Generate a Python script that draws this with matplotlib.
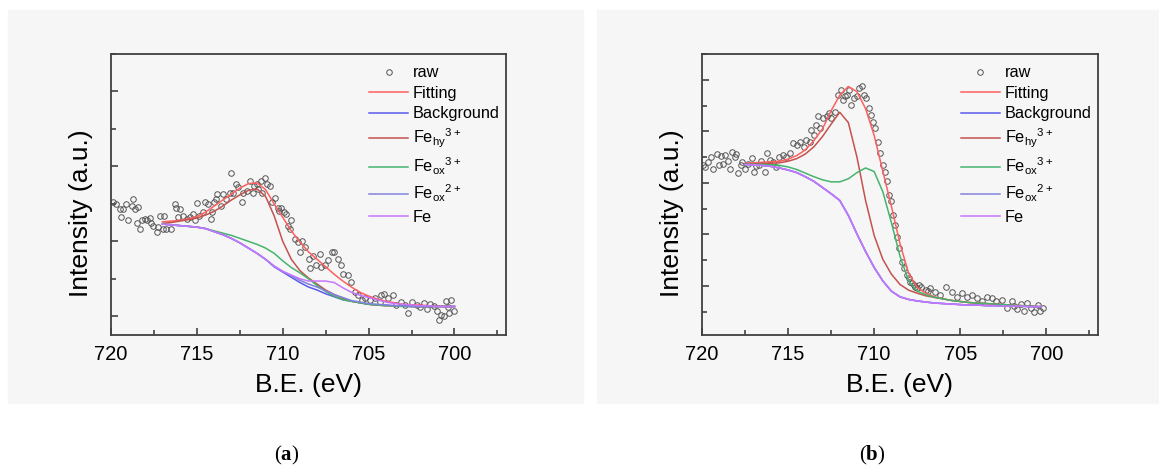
import matplotlib
matplotlib.use('Agg')
import matplotlib.pyplot as plt
from matplotlib.patches import Rectangle
from matplotlib.ticker import MultipleLocator

plt.rcParams['font.family'] = ['Liberation Sans', 'DejaVu Sans']
plt.rcParams['mathtext.fontset'] = 'custom'
plt.rcParams['mathtext.rm'] = 'Liberation Serif'
plt.rcParams['mathtext.bf'] = 'Liberation Serif:bold'

# ---------------- panel (a) ----------------
raw_a_be = [719.9, 719.7, 719.5, 719.3, 719.1, 719.4, 719.0, 718.8, 718.7, 718.6,
            718.4, 718.5, 718.3, 718.2, 718.0, 717.9, 717.75, 717.65, 717.55, 717.35,
            717.25, 717.15, 717.0, 716.9, 716.8, 716.5, 716.3, 716.2, 716.0, 716.1,
            715.8, 715.6, 715.4, 715.2, 715.1, 715.0, 714.85, 714.65, 714.55, 714.35,
            714.2, 714.1, 714.0, 713.9, 713.8, 713.6, 713.5, 713.3, 713.1, 713.0,
            712.9, 712.7, 712.6, 712.4, 712.3, 712.1, 711.9, 711.75, 711.65, 711.5,
            711.45, 711.25, 711.05, 710.9, 710.75, 711.2, 710.65, 710.45, 710.3, 710.1,
            710.2, 709.9, 709.8, 709.5, 709.7, 709.6, 709.3, 709.1, 708.9, 709.0,
            708.7, 708.5, 708.4, 708.25, 708.05, 707.85, 707.75, 707.55, 707.35, 707.15,
            707.0, 706.8, 706.6, 706.5, 706.2, 706.0, 705.8, 705.6, 705.4, 705.2,
            704.9, 704.65, 704.35, 704.25, 704.1, 703.9, 703.6, 703.4, 703.1, 702.9,
            702.7, 702.5, 702.2, 702.0, 701.8, 701.6, 701.4, 701.2, 701.0, 700.9,
            700.8, 700.6, 700.5, 700.4, 700.3, 700.2, 700.0]
raw_a_int = [1.52, 1.50, 1.43, 1.43, 1.50, 1.32, 1.29, 1.47, 1.57, 1.43,
             1.46, 1.25, 1.16, 1.28, 1.30, 1.28, 1.31, 1.25, 1.21, 1.12,
             1.19, 1.34, 1.17, 1.34, 1.17, 1.17, 1.50, 1.45, 1.43, 1.33,
             1.34, 1.30, 1.33, 1.36, 1.29, 1.51, 1.34, 1.39, 1.52, 1.50,
             1.30, 1.39, 1.52, 1.57, 1.63, 1.47, 1.63, 1.56, 1.65, 1.91,
             1.65, 1.77, 1.72, 1.52, 1.65, 1.67, 1.81, 1.65, 1.74, 1.76,
             1.70, 1.81, 1.85, 1.76, 1.74, 1.65, 1.52, 1.58, 1.45, 1.45,
             1.41, 1.39, 1.36, 1.28, 1.21, 1.17, 1.03, 0.99, 1.01, 0.86,
             0.92, 0.77, 0.64, 0.81, 0.68, 0.83, 0.66, 0.68, 0.75, 0.86,
             0.86, 0.77, 0.68, 0.57, 0.55, 0.46, 0.33, 0.28, 0.22, 0.24,
             0.22, 0.24, 0.19, 0.28, 0.30, 0.24, 0.28, 0.15, 0.19, 0.15,
             0.04, 0.19, 0.15, 0.13, 0.18, 0.10, 0.17, 0.14, 0.07, -0.05,
             0.02, 0.00, 0.20, 0.13, 0.05, 0.22, 0.07]

fit_a_be = [717.0, 716.5, 716.0, 715.5, 715.0, 714.5, 714.0, 713.5, 713.0, 712.5,
            712.0, 711.5, 711.0, 710.5, 710.0, 709.5, 709.0, 708.5, 708.0, 707.5,
            707.0, 706.5, 706.0, 705.5, 705.0, 704.5, 704.0, 703.5, 703.0, 702.5,
            702.0, 701.5, 701.0, 700.5, 700.0]
fitting_a = [1.26, 1.27, 1.28, 1.30, 1.33, 1.39, 1.47, 1.55, 1.63, 1.71,
             1.77, 1.78, 1.69, 1.50, 1.32, 1.14, 0.99, 0.86, 0.76, 0.66,
             0.56, 0.47, 0.39, 0.32, 0.27, 0.23, 0.20, 0.18, 0.16, 0.15,
             0.15, 0.14, 0.14, 0.13, 0.13]
bg_a = [1.23, 1.22, 1.21, 1.20, 1.19, 1.17, 1.13, 1.09, 1.04, 0.98,
        0.91, 0.84, 0.76, 0.66, 0.59, 0.52, 0.45, 0.39, 0.35, 0.30,
        0.26, 0.22, 0.20, 0.18, 0.16, 0.15, 0.15, 0.14, 0.14, 0.13,
        0.13, 0.13, 0.13, 0.13, 0.13]
fehy_a = [1.24, 1.25, 1.27, 1.29, 1.31, 1.35, 1.40, 1.47, 1.55, 1.62,
          1.68, 1.70, 1.60, 1.34, 1.00, 0.76, 0.61, 0.51, 0.43, 0.35,
          0.29, 0.24, 0.20, 0.18, 0.16, 0.15, 0.14, 0.14, 0.14, 0.13,
          0.13, 0.13, 0.13, 0.13, 0.13]
feox3_a = [1.23, 1.22, 1.21, 1.20, 1.19, 1.17, 1.14, 1.11, 1.08, 1.04,
           1.00, 0.96, 0.91, 0.84, 0.74, 0.65, 0.58, 0.50, 0.41, 0.33,
           0.27, 0.22, 0.20, 0.18, 0.16, 0.15, 0.14, 0.14, 0.13, 0.13,
           0.13, 0.13, 0.13, 0.13, 0.13]
feox2_a = [1.23, 1.22, 1.21, 1.20, 1.19, 1.17, 1.13, 1.09, 1.04, 0.98,
           0.91, 0.84, 0.76, 0.67, 0.60, 0.54, 0.48, 0.43, 0.39, 0.34,
           0.29, 0.25, 0.21, 0.19, 0.17, 0.16, 0.15, 0.14, 0.14, 0.13,
           0.13, 0.13, 0.13, 0.13, 0.13]
fe_a = [1.23, 1.22, 1.21, 1.20, 1.19, 1.17, 1.13, 1.09, 1.04, 0.98,
        0.91, 0.84, 0.76, 0.67, 0.60, 0.55, 0.50, 0.47, 0.47, 0.47,
        0.45, 0.38, 0.32, 0.28, 0.25, 0.22, 0.19, 0.17, 0.16, 0.15,
        0.14, 0.14, 0.13, 0.13, 0.13]

# ---------------- panel (b) ----------------
raw_b_be = [719.94, 719.8, 719.65, 719.5, 719.35, 719.15, 719.0, 718.9, 718.8, 718.65,
            718.5, 718.4, 718.25, 718.1, 718.0, 717.9, 717.75, 717.65, 717.5, 717.3,
            717.1, 717.0, 716.85, 716.7, 716.55, 716.35, 716.2, 716.05, 715.9, 715.7,
            715.5, 715.3, 715.1, 714.9, 714.7, 714.5, 714.3, 714.1, 713.95, 713.75,
            713.65, 713.5, 713.35, 713.15, 713.25, 712.95, 712.75, 712.6, 712.5, 712.3,
            712.1, 711.95, 711.8, 711.7, 711.6, 711.45, 711.35, 711.2, 711.0, 710.9,
            710.7, 710.6, 710.5, 710.3, 710.2, 710.05, 709.95, 709.8, 709.65, 709.5,
            709.4, 709.25, 709.15, 709.0, 708.9, 708.8, 708.7, 708.55, 708.4, 708.25,
            708.1, 708.0, 707.9, 707.8, 707.7, 707.6, 707.5, 707.4, 707.3, 707.0,
            706.9, 706.75, 706.45, 706.15, 705.8, 705.5, 705.2, 704.9, 704.6, 704.3,
            704.0, 703.75, 703.45, 703.15, 702.9, 702.6, 702.3, 702.0, 701.9, 701.7,
            701.5, 701.3, 701.1, 700.9, 700.7, 700.5, 700.35, 700.2]
raw_b_int = [3.35, 3.30, 3.40, 3.51, 3.27, 3.56, 3.35, 3.53, 3.36, 3.54,
             3.43, 3.27, 3.60, 3.51, 3.56, 3.20, 3.35, 3.41, 3.27, 3.36,
             3.49, 3.22, 3.32, 3.35, 3.43, 3.21, 3.58, 3.45, 3.40, 3.30,
             3.51, 3.54, 3.51, 3.58, 3.77, 3.74, 3.80, 3.69, 3.83, 3.80,
             4.03, 3.93, 4.13, 4.06, 4.29, 4.26, 4.29, 4.35, 4.26, 4.38,
             4.71, 4.81, 4.61, 4.68, 4.71, 4.81, 4.51, 4.64, 4.68, 4.84,
             4.87, 4.70, 4.64, 4.45, 4.32, 4.19, 4.06, 3.80, 3.58, 3.35,
             3.22, 3.03, 2.77, 2.64, 2.38, 2.18, 1.96, 1.73, 1.47, 1.34,
             1.21, 1.15, 1.08, 1.05, 1.02, 0.98, 0.96, 1.02, 0.99, 0.92,
             0.90, 0.96, 0.89, 0.83, 0.99, 0.89, 0.79, 0.86, 0.79, 0.83,
             0.76, 0.70, 0.79, 0.76, 0.70, 0.73, 0.57, 0.70, 0.62, 0.55,
             0.66, 0.52, 0.68, 0.58, 0.50, 0.64, 0.52, 0.58]

fit_b_be = [717.5, 717.0, 716.5, 716.0, 715.5, 715.0, 714.5, 714.0, 713.5, 713.0,
            712.5, 712.0, 711.5, 711.0, 710.5, 710.0, 709.5, 709.0, 708.5, 708.0,
            707.5, 707.0, 706.5, 706.0, 705.5, 705.0, 704.5, 704.0, 703.5, 703.0,
            702.5, 702.0, 701.5, 701.0, 700.5, 700.3]
fitting_b = [3.38, 3.39, 3.40, 3.41, 3.42, 3.46, 3.53, 3.64, 3.82, 4.05,
             4.40, 4.70, 4.87, 4.77, 4.44, 3.92, 3.23, 2.55, 1.82, 1.25,
             0.97, 0.86, 0.79, 0.75, 0.72, 0.70, 0.68, 0.67, 0.66, 0.65,
             0.64, 0.63, 0.62, 0.61, 0.60, 0.60]
fehy_b = [3.37, 3.37, 3.38, 3.38, 3.39, 3.42, 3.47, 3.56, 3.70, 3.90,
          4.14, 4.37, 4.17, 3.50, 2.66, 1.98, 1.52, 1.23, 1.03, 0.92,
          0.86, 0.81, 0.78, 0.75, 0.72, 0.70, 0.68, 0.67, 0.66, 0.65,
          0.64, 0.63, 0.62, 0.61, 0.60, 0.60]
feox3_b = [3.36, 3.36, 3.36, 3.35, 3.34, 3.31, 3.26, 3.19, 3.12, 3.06,
           3.02, 3.02, 3.08, 3.20, 3.29, 3.22, 2.83, 2.23, 1.58, 1.10,
           0.90, 0.83, 0.78, 0.75, 0.72, 0.70, 0.68, 0.67, 0.66, 0.65,
           0.64, 0.63, 0.62, 0.61, 0.60, 0.60]
# background, Fe(ox)2+ and Fe lie on one line in (b)
bg_b = [3.36, 3.35, 3.34, 3.32, 3.29, 3.25, 3.20, 3.12, 3.03, 2.91,
        2.79, 2.66, 2.37, 2.01, 1.67, 1.36, 1.10, 0.90, 0.79, 0.74,
        0.71, 0.69, 0.67, 0.66, 0.65, 0.64, 0.63, 0.63, 0.62, 0.62,
        0.61, 0.61, 0.61, 0.60, 0.60, 0.60]
feox2_b = bg_b
fe_b = bg_b

xticks = [720, 715, 710, 705, 700]

labels = ['Fitting', 'Background',
          r'Fe$_{\mathregular{hy}}$$^{\mathregular{3+}}$',
          r'Fe$_{\mathregular{ox}}$$^{\mathregular{3+}}$',
          r'Fe$_{\mathregular{ox}}$$^{\mathregular{2+}}$',
          'Fe']
colors = ['#ff5f5f', '#5a5aef', '#c4524e', '#45b46c', '#8282dc', '#c875ff']

W, H = 1159, 468
fig = plt.figure(figsize=(W / 100, H / 100), dpi=100)

# light grey panel backgrounds, kept behind the axes
for x0, x1 in [(8, 583), (597, 1159)]:
    fig.add_artist(Rectangle((x0 / W, 1 - 403 / H), (x1 - x0) / W, 393 / H,
                             transform=fig.transFigure, color='#f6f6f6', zorder=-5))


def draw(ax, rbe, rint, cbe, curves, ylim):
    ax.plot(rbe, rint, 'o', ls='none', mfc='none', mec='#555555', ms=4.0, mew=0.7,
            label='raw', zorder=2)
    for yv, lab, c in zip(curves, labels, colors):
        ax.plot(cbe, yv, color=c, lw=1.1, label=lab, zorder=3)
    ax.set_xlim(720, 697)
    ax.set_ylim(*ylim)
    ax.set_xticks(xticks)
    ax.xaxis.set_minor_locator(MultipleLocator(2.5))
    ax.yaxis.set_major_locator(MultipleLocator(1))
    ax.yaxis.set_minor_locator(MultipleLocator(0.5))
    ax.set_yticklabels([])
    ax.tick_params(which='both', direction='in', top=False, right=False,
                   color='#333333', width=1.1, labelsize=14.5, pad=7)
    ax.tick_params(which='major', length=5)
    ax.tick_params(which='minor', length=3.5)
    for s in ax.spines.values():
        s.set_color('#404040')
        s.set_linewidth(1.3)
    ax.set_facecolor('none')
    ax.set_xlabel('B.E. (eV)', fontsize=19, labelpad=7)
    ax.set_ylabel('Intensity (a.u.)', fontsize=19)
    # the y title sits a little below the middle of the frame
    ax.yaxis.set_label_coords(-0.046, 0.435)
    ax.legend(loc='upper left', bbox_to_anchor=(0.625, 1.0), frameon=False,
              fontsize=11.7, handlelength=2.4, handletextpad=0.3,
              labelspacing=0.34, borderaxespad=0.3, numpoints=1)


ax_a = fig.add_axes([111 / W, 1 - 335 / H, 395 / W, 281 / H])
draw(ax_a, raw_a_be, raw_a_int, fit_a_be,
     [fitting_a, bg_a, fehy_a, feox3_a, feox2_a, fe_a], (-0.25, 3.5))

ax_b = fig.add_axes([702 / W, 1 - 335 / H, 396 / W, 281 / H])
draw(ax_b, raw_b_be, raw_b_int, fit_b_be,
     [fitting_b, bg_b, fehy_b, feox3_b, feox2_b, fe_b], (0.05, 5.5))

fig.text(287 / W, 1 - 455 / H, r'($\mathbf{a}$)', ha='center', va='center',
         fontsize=15, family='Liberation Serif')
fig.text(872 / W, 1 - 455 / H, r'($\mathbf{b}$)', ha='center', va='center',
         fontsize=15, family='Liberation Serif')

fig.savefig('out.png', dpi=100)
